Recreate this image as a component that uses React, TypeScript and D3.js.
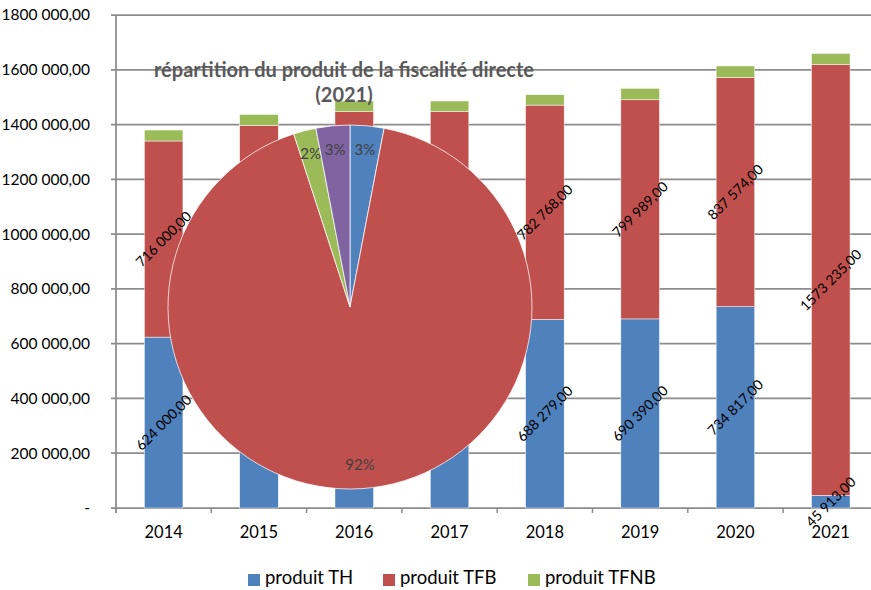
import React, { useEffect } from 'react';
import * as d3 from 'd3';

// stacked bars: produit de la fiscalité directe par année
const years = ['2014', '2015', '2016', '2017', '2018', '2019', '2020', '2021'];
const produitTH = [624000, 651000, 662000, 667000, 688279, 690390, 734817, 45913];
const produitTFB = [716000, 746000, 785000, 780000, 782768, 799989, 837574, 1573235];
const produitTFNB = [40000, 40000, 39000, 39000, 38000, 42000, 41500, 40500];

const seriesNames = ['produit TH', 'produit TFB', 'produit TFNB'];
const seriesColors = ['#4F81BD', '#C0504D', '#9BBB59'];

// pie (2021) - shares in %
const pieNames = ['produit TH', 'produit TFB', 'produit TFNB', 'autre'];
const pieShares = [3, 92, 2, 3];
const pieColors = ['#4F81BD', '#C0504D', '#9BBB59', '#8064A2'];

const yTicks = [0, 200000, 400000, 600000, 800000, 1000000, 1200000, 1400000, 1600000, 1800000];

const FONT = 'Lato, "Open Sans", sans-serif';

const fr = d3.formatLocale({ decimal: ',', thousands: ' ', grouping: [3, 4], currency: ['', ''] });
const fmt = fr.format(',.2f');

export default function App() {
  useEffect(() => {
    document.body.style.margin = '0';
  }, []);

  const width = 871;
  const height = 590;

  const x = d3.scaleBand().domain(years).range([116, 878.4]).paddingInner(0).paddingOuter(0);
  const y = d3.scaleLinear().domain([0, 1800000]).range([508, 15]);
  const barW = x.bandwidth() * 0.405;

  const rows = years.map((yr, i) => ({ year: yr, th: produitTH[i], tfb: produitTFB[i], tfnb: produitTFNB[i] }));
  const stack = d3.stack<any>().keys(['th', 'tfb', 'tfnb'])(rows);

  const pieCx = 350;
  const pieCy = 307;
  const radius = 182;
  const pie = d3.pie<number>().sort(null).value(d => d);
  const arcs = pie(pieShares);
  const arc = d3.arc<any>().innerRadius(0).outerRadius(radius);
  const labelArc = d3.arc<any>().innerRadius(radius * 0.87).outerRadius(radius * 0.87);

  const legendX = [248, 383, 528];

  return (
    <svg width={width} height={height} style={{ display: 'block', fontFamily: FONT }}>
      <rect width={width} height={height} fill="#fff" />
      {/* grid */}
      {yTicks.map(t => (
        <g key={t}>
          <line x1={111} x2={width} y1={y(t)} y2={y(t)} stroke="#8c8c8c" strokeWidth={1.75} />
          <text x={90} y={y(t)} dy="0.35em" textAnchor="end" fontSize={15.5} fill="#000">
            {t === 0 ? '-' : fmt(t)}
          </text>
        </g>
      ))}
      <line x1={116} x2={116} y1={15} y2={513} stroke="#8c8c8c" strokeWidth={1.75} />
      {years.map((yr, i) => (
        <line key={'tk' + yr} x1={x(yr)!} x2={x(yr)!} y1={508} y2={513} stroke="#8c8c8c" strokeWidth={1.5} />
      ))}
      {years.map(yr => (
        <text key={'xl' + yr} x={x(yr)! + x.bandwidth() / 2} y={532} dy="0.35em" textAnchor="middle" fontSize={16.5}>
          {yr}
        </text>
      ))}
      {/* bars */}
      {stack.map((s, si) => (
        <g key={s.key} fill={seriesColors[si]}>
          {s.map((d, i) => (
            <rect
              key={i}
              x={x(years[i])! + (x.bandwidth() - barW) / 2}
              y={y(d[1])}
              width={barW}
              height={y(d[0]) - y(d[1])}
              stroke="#fff"
              strokeWidth={0.5}
            />
          ))}
        </g>
      ))}
      {/* data labels for TH and TFB */}
      {stack.slice(0, 2).map(s => (
        <g key={'lb' + s.key}>
          {s.map((d, i) => {
            const cx = x(years[i])! + x.bandwidth() / 2;
            const cy = y((d[0] + d[1]) / 2);
            return (
              <text
                key={i}
                transform={`translate(${cx},${cy}) rotate(-45)`}
                textAnchor="middle"
                dy="0.35em"
                fontSize={14}
                fill="#000"
              >
                {fmt(d[1] - d[0])}
              </text>
            );
          })}
        </g>
      ))}
      {/* pie 2021 */}
      <g transform={`translate(${pieCx},${pieCy})`}>
        {arcs.map((a, i) => (
          <path key={pieNames[i]} d={arc(a) as string} fill={pieColors[i]} stroke="#fff" strokeWidth={0.75} />
        ))}
        {arcs.map((a, i) => {
          const [lx, ly] = labelArc.centroid(a);
          return (
            <text key={'pl' + i} x={lx} y={ly} dy="0.35em" textAnchor="middle" fontSize={15} fill="#404040">
              {pieShares[i] + '%'}
            </text>
          );
        })}
      </g>
      <text x={344} y={70} dy="0.35em" textAnchor="middle" fontSize={20} fontWeight="bold" fill="#595959">
        répartition du produit de la fiscalité directe
      </text>
      <text x={344} y={95} dy="0.35em" textAnchor="middle" fontSize={20} fontWeight="bold" fill="#595959">
        (2021)
      </text>
      {/* legend */}
      {seriesNames.map((n, i) => (
        <g key={n}>
          <rect x={legendX[i]} y={574} width={12} height={12} fill={seriesColors[i]} />
          <text x={legendX[i] + 17} y={578} dy="0.35em" fontSize={18.5}>
            {n}
          </text>
        </g>
      ))}
    </svg>
  );
}
